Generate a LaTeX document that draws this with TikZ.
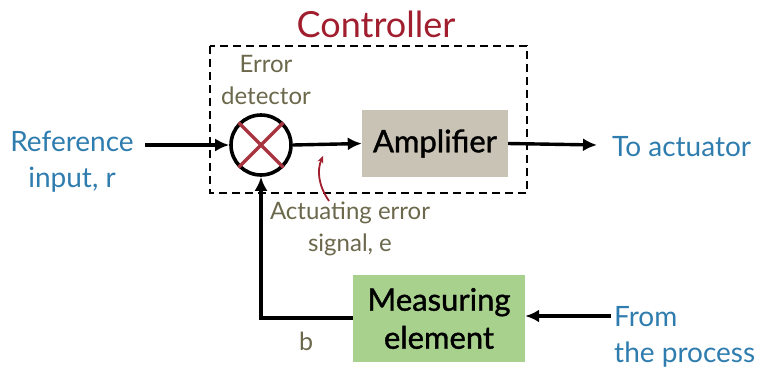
\documentclass[tikz,border=0pt]{standalone}
\usepackage{fontspec}
\setmainfont{Lato}
\newfontface\boxface{Lato}[FakeBold=1.2]
\usetikzlibrary{arrows.meta}
\definecolor{refblue}{HTML}{2F7DAF}
\definecolor{olive}{HTML}{6B684C}
\definecolor{ctrlred}{HTML}{A11E2E}
\definecolor{xred}{HTML}{A8343F}
\definecolor{ampgray}{HTML}{C9C3B5}
\definecolor{measgreen}{HTML}{A9D18E}
\tikzset{
  sig/.style={line width=3.4pt,-{Latex[length=14pt,width=13pt]}},
  bluetext/.style={text=refblue,font=\fontsize{28}{36}\selectfont,align=center},
  olivetext/.style={text=olive,font=\fontsize{24}{32}\selectfont,align=center},
  blockbox/.style={font=\boxface\fontsize{31}{38}\selectfont,align=center,inner sep=0pt}
}
\begin{document}
\begin{tikzpicture}[x=1pt,y=-1pt]
\useasboundingbox (0,0) rectangle (762,368);
\fill[white] (0,0) rectangle (762,368);
% controller box
\draw[line width=2.4pt,dash pattern=on 8pt off 5pt] (210,46) rectangle (527,193);
\node[text=ctrlred,font=\fontsize{36}{40}\selectfont] (ctrl) at (376,24) {Controller};
\node[olivetext] (ed) at (266,80) {Error\\detector};
% summing junction
\node[circle,draw,line width=3.6pt,minimum size=60pt,inner sep=0pt] (sum) at (261,145) {};
\draw[xred,line width=3.2pt] (sum.45) -- (sum.225) (sum.135) -- (sum.315);
% amplifier
\node[blockbox,fill=ampgray,minimum width=146pt,minimum height=67pt] (amp) at (435,143.5) {Amplifier};
% measuring element
\node[blockbox,fill=measgreen,minimum width=172pt,minimum height=87pt] (meas) at (439,318.5) {Measuring\\element};
% texts
\node[bluetext] (ref) at (72,162) {Reference\\input, r};
\node[bluetext,anchor=west,inner sep=0pt] (act) at (612,147) {To actuator};
\node[bluetext,anchor=west,align=left,inner sep=0pt] (proc) at (614,337) {From\\the process};
\node[olivetext] (aes) at (350,229) {Actuating error\\signal, e};
\node[text=olive,font=\fontsize{25}{30}\selectfont] (b) at (306,341) {b};
% connectors
\coordinate (refend) at (145,145);
\coordinate (actend) at (597,145);
\coordinate (procend) at (611,316);
\draw[sig] (refend) -- (sum.west);
\draw[sig] (sum.east) -- (amp.west);
\draw[sig] (amp.east) -- (actend);
\draw[sig] (procend) -- (procend -| meas.east);
\draw[sig] (meas.west |- 0,318) -| (sum.south);
% red curved pointer
\coordinate (ptail) at (329,201);
\coordinate (ptip) at (323,156);
\draw[ctrlred,line width=1.8pt,-{Stealth[length=7pt,width=6pt]}] (ptail) .. controls (318,185) and (317,170) .. (ptip);
\end{tikzpicture}
\end{document}
